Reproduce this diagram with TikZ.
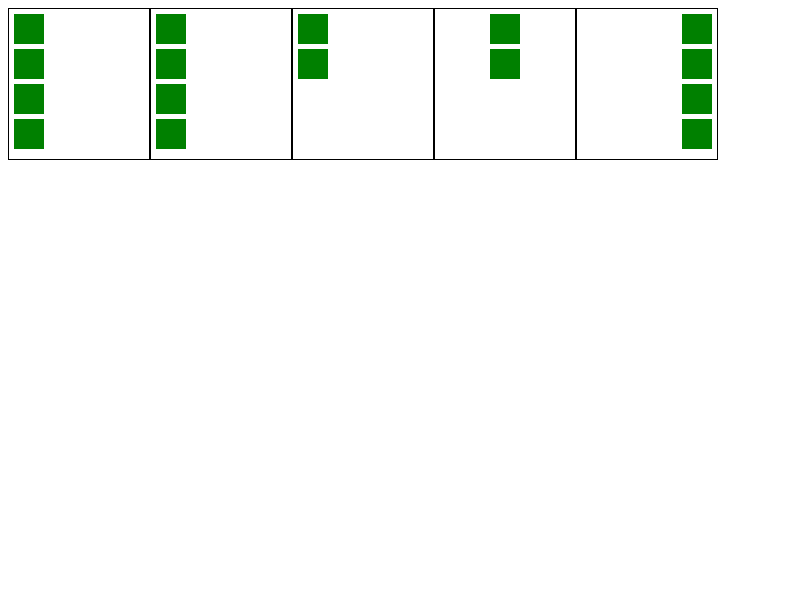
\documentclass[tikz,border=0pt]{standalone}
\definecolor{webgreen}{HTML}{008000}
\tikzset{
  panel/.style={draw=black, line width=1pt, fill=white},
  sq/.style={fill=webgreen, draw=none}
}
\begin{document}
\begin{tikzpicture}[x=1pt,y=-1pt]
\useasboundingbox (0,0) rectangle (800,600);
\fill[white] (0,0) rectangle (800,600);
% panels
\foreach \i in {0,...,4} {
  \draw[panel] (8.5+142*\i,8.5) rectangle (149.5+142*\i,159.5);
}
\foreach \j in {0,...,3} {
  \fill[sq] (14,14+35*\j) rectangle (44,44+35*\j);
  \fill[sq] (156,14+35*\j) rectangle (186,44+35*\j);
  \fill[sq] (682,14+35*\j) rectangle (712,44+35*\j);
}
\foreach \j in {0,1} {
  \fill[sq] (298,14+35*\j) rectangle (328,44+35*\j);
  \fill[sq] (490,14+35*\j) rectangle (520,44+35*\j);
}
\end{tikzpicture}
\end{document}
